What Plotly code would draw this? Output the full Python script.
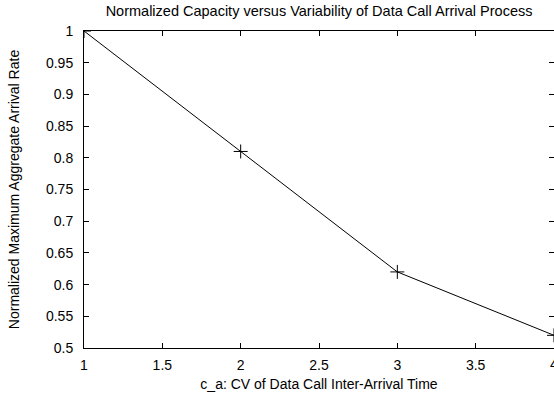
import plotly.graph_objects as go

x_vals = [1, 2, 3, 4]
y_vals = [1.0, 0.81, 0.62, 0.52]
x_ticks = [1, 1.5, 2, 2.5, 3, 3.5, 4]
y_ticks = [0.5, 0.55, 0.6, 0.65, 0.7, 0.75, 0.8, 0.85, 0.9, 0.95, 1]

font = "Liberation Sans, Arial, sans-serif"
FS = 14

fig = go.Figure()
fig.add_trace(go.Scatter(
    x=x_vals, y=y_vals, mode="lines+markers",
    line=dict(color="black", width=1),
    marker=dict(symbol="cross-thin", size=10, line=dict(color="black", width=1), color="black"),
    showlegend=False,
))

# last x tick label sits at the page edge; draw it as text so it is not dropped
fig.add_annotation(x=x_ticks[-1], y=0, xref="x", yref="paper", text=str(x_ticks[-1]),
                   showarrow=False, xanchor="center", yanchor="top", yshift=-6,
                   font=dict(size=FS))

fig.update_layout(
    width=554, height=394,
    margin=dict(l=84, r=0, t=31, b=46),
    paper_bgcolor="white", plot_bgcolor="white",
    font=dict(family=font, size=FS, color="black"),
    title=dict(text="Normalized Capacity versus Variability of Data Call Arrival Process",
               x=0.5759, xanchor="center", y=1 - 11 / 394, yanchor="middle",
               font=dict(size=14.5)),
    xaxis=dict(range=[1, 4], tickvals=x_ticks[:-1], ticktext=[("%g" % v) for v in x_ticks[:-1]],
               ticks="inside", ticklen=5, tickcolor="black", tickwidth=1,
               ticklabelstandoff=4,
               showline=True, linecolor="black", linewidth=1, mirror="allticks",
               showgrid=False, zeroline=False,
               title=dict(text="c_a: CV of Data Call Inter-Arrival Time", standoff=7,
                          font=dict(size=FS))),
    yaxis=dict(range=[0.5, 1], tickvals=y_ticks,
               ticktext=[("%g" % v) for v in y_ticks],
               ticks="inside", ticklen=5, tickcolor="black", tickwidth=1,
               ticklabelstandoff=7,
               showline=True, linecolor="black", linewidth=1, mirror="allticks",
               showgrid=False, zeroline=False,
               title=dict(text="Normalized Maximum Aggregate Arrival Rate", standoff=23,
                          font=dict(size=FS))),
)

fig.write_html("out.html")
